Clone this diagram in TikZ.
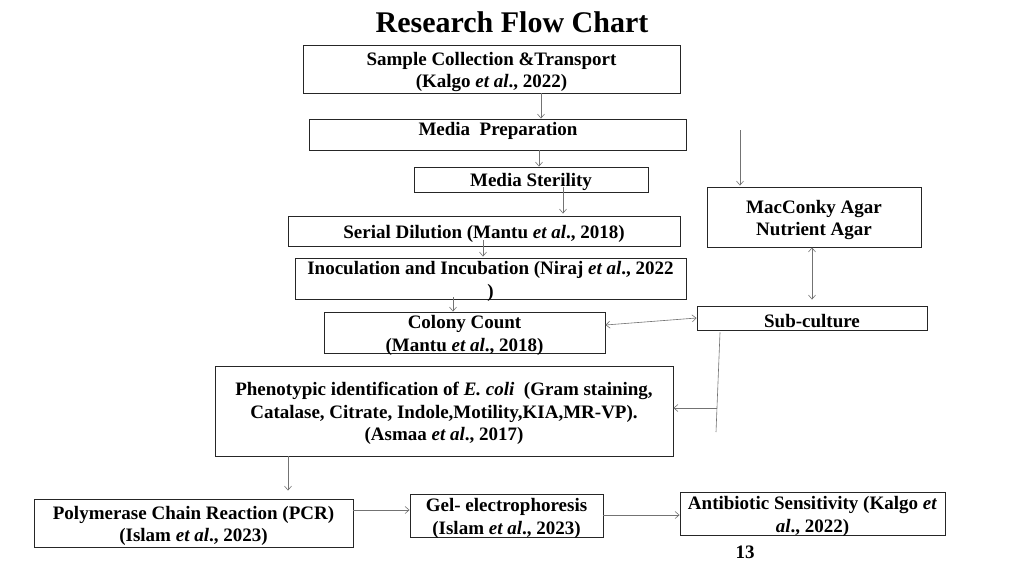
\documentclass[tikz,border=0pt]{standalone}
\usepackage{fontspec}
\setmainfont{Liberation Serif}
\usetikzlibrary{arrows.meta,calc}
\newcommand\bxs{\rule{0pt}{19pt}}
\tikzset{
  box/.style={draw=black!85, line width=0.9pt, inner xsep=1pt, inner ysep=-4pt, align=center,
    font=\fontsize{19}{22.5}\selectfont\bfseries},
  txt/.style={inner sep=0pt, align=center, font=\fontsize{19}{22.5}\selectfont\bfseries},
  arr/.style={draw=black!55, line width=0.6pt, -{Straight Barb[length=4pt,width=7pt]}},
  darr/.style={draw=black!55, line width=0.6pt, {Straight Barb[length=4pt,width=7pt]}-{Straight Barb[length=4pt,width=7pt]}},
  ln/.style={draw=black!55, line width=0.6pt}
}
\begin{document}
\begin{tikzpicture}[x=1pt,y=-1pt]
\useasboundingbox[fill=white] (0,0) rectangle (1024,576);
\node[txt, font=\fontsize{30}{34}\selectfont\bfseries] (title) at (512,22) {Research Flow Chart};

\node[box, minimum width=377pt, minimum height=48pt] (sc) at (491.5,69) {\bxs Sample Collection \&Transport\\(Kalgo \textit{et al}., 2022)};
\node[box, minimum width=377pt, minimum height=31pt] (mp) at (497.5,134.5) {};
\node[txt] (mpt) at (498,131) {Media\ \ Preparation};
\node[box, minimum width=234pt, minimum height=25pt] (ms) at (531,179.5) {\bxs Media Sterility};
\node[box, minimum width=392pt, minimum height=30pt] (sd) at (484,231) {\bxs Serial Dilution (Mantu \textit{et al}., 2018)};
\node[box, minimum width=391pt, minimum height=41pt] (ii) at (490.5,278.5) {\bxs Inoculation and Incubation (Niraj \textit{et al}., 2022\\)};
\node[box, minimum width=281pt, minimum height=41pt] (cc) at (464.5,332.5) {\bxs Colony Count\\(Mantu \textit{et al}., 2018)};
\node[box, minimum width=214pt, minimum height=60pt] (mac) at (814,217) {\bxs MacConky Agar\\Nutrient Agar};
\node[box, minimum width=230pt, minimum height=24pt] (sub) at (812,318) {\bxs Sub-culture};
\node[box, minimum width=458pt, minimum height=90pt] (ph) at (444,411) {\bxs Phenotypic identification of \textit{E. coli}\ \ (Gram staining,\\Catalase, Citrate, Indole,Motility,KIA,MR-VP).\\(Asmaa \textit{et al}., 2017)};
\node[box, minimum width=319pt, minimum height=48pt] (pcr) at (193.5,523) {\bxs Polymerase Chain Reaction (PCR)\\(Islam \textit{et al}., 2023)};
\node[box, minimum width=193pt, minimum height=43pt] (gel) at (506.5,515.5) {\bxs Gel- electrophoresis\\(Islam \textit{et al}., 2023)};
\node[box, minimum width=265pt, minimum height=43pt] (ab) at (812.5,513.5) {\bxs Antibiotic Sensitivity (Kalgo \textit{et}\\\textit{al}., 2022)};
\node[txt] (pg) at (745,552) {13};

\coordinate (macin) at (740,130);
\coordinate (vend) at (716,432);
\coordinate (vj) at (717,408);

\draw[arr] ($(sc.south)+(49.5,0)$) -- ($(mp.north)+(43.5,0)$);
\draw[arr] ($(mp.south)+(41.5,0)$) -- ($(ms.north)+(8,0)$);
\draw[arr] ($(ms.south)+(32,-5)$) -- ($(sd.north)+(79,-2)$);
\draw[arr] ($(sd.south)+(-1,-6)$) -- ($(ii.north)+(-7.5,-1)$);
\draw[arr] ($(ii.south)+(-37.5,-2)$) -- ($(cc.north)+(-11.5,0)$);
\draw[darr] ($(cc.east)+(0,-7.5)$) -- ($(sub.west)+(0,0)$);
\draw[arr] (macin) -- ($(mac.north)+(-74,-1)$);
\draw[darr] ($(mac.south)+(-2,0)$) -- ($(sub.north)+(0,-6)$);
\draw[ln] ($(sub.south)+(-92,2)$) -- (vend);
\draw[arr] (vj) -- ($(ph.east)+(0,-3)$);
\draw[arr] ($(ph.south)+(-156,0)$) -- ($(pcr.north)+(94.5,-8)$);
\draw[arr] ($(pcr.east)+(0,-13)$) -- ($(gel.west)+(0,-5.5)$);
\draw[arr] ($(gel.east)+(0,-0.5)$) -- ($(ab.west)+(0,1.5)$);
\end{tikzpicture}
\end{document}
